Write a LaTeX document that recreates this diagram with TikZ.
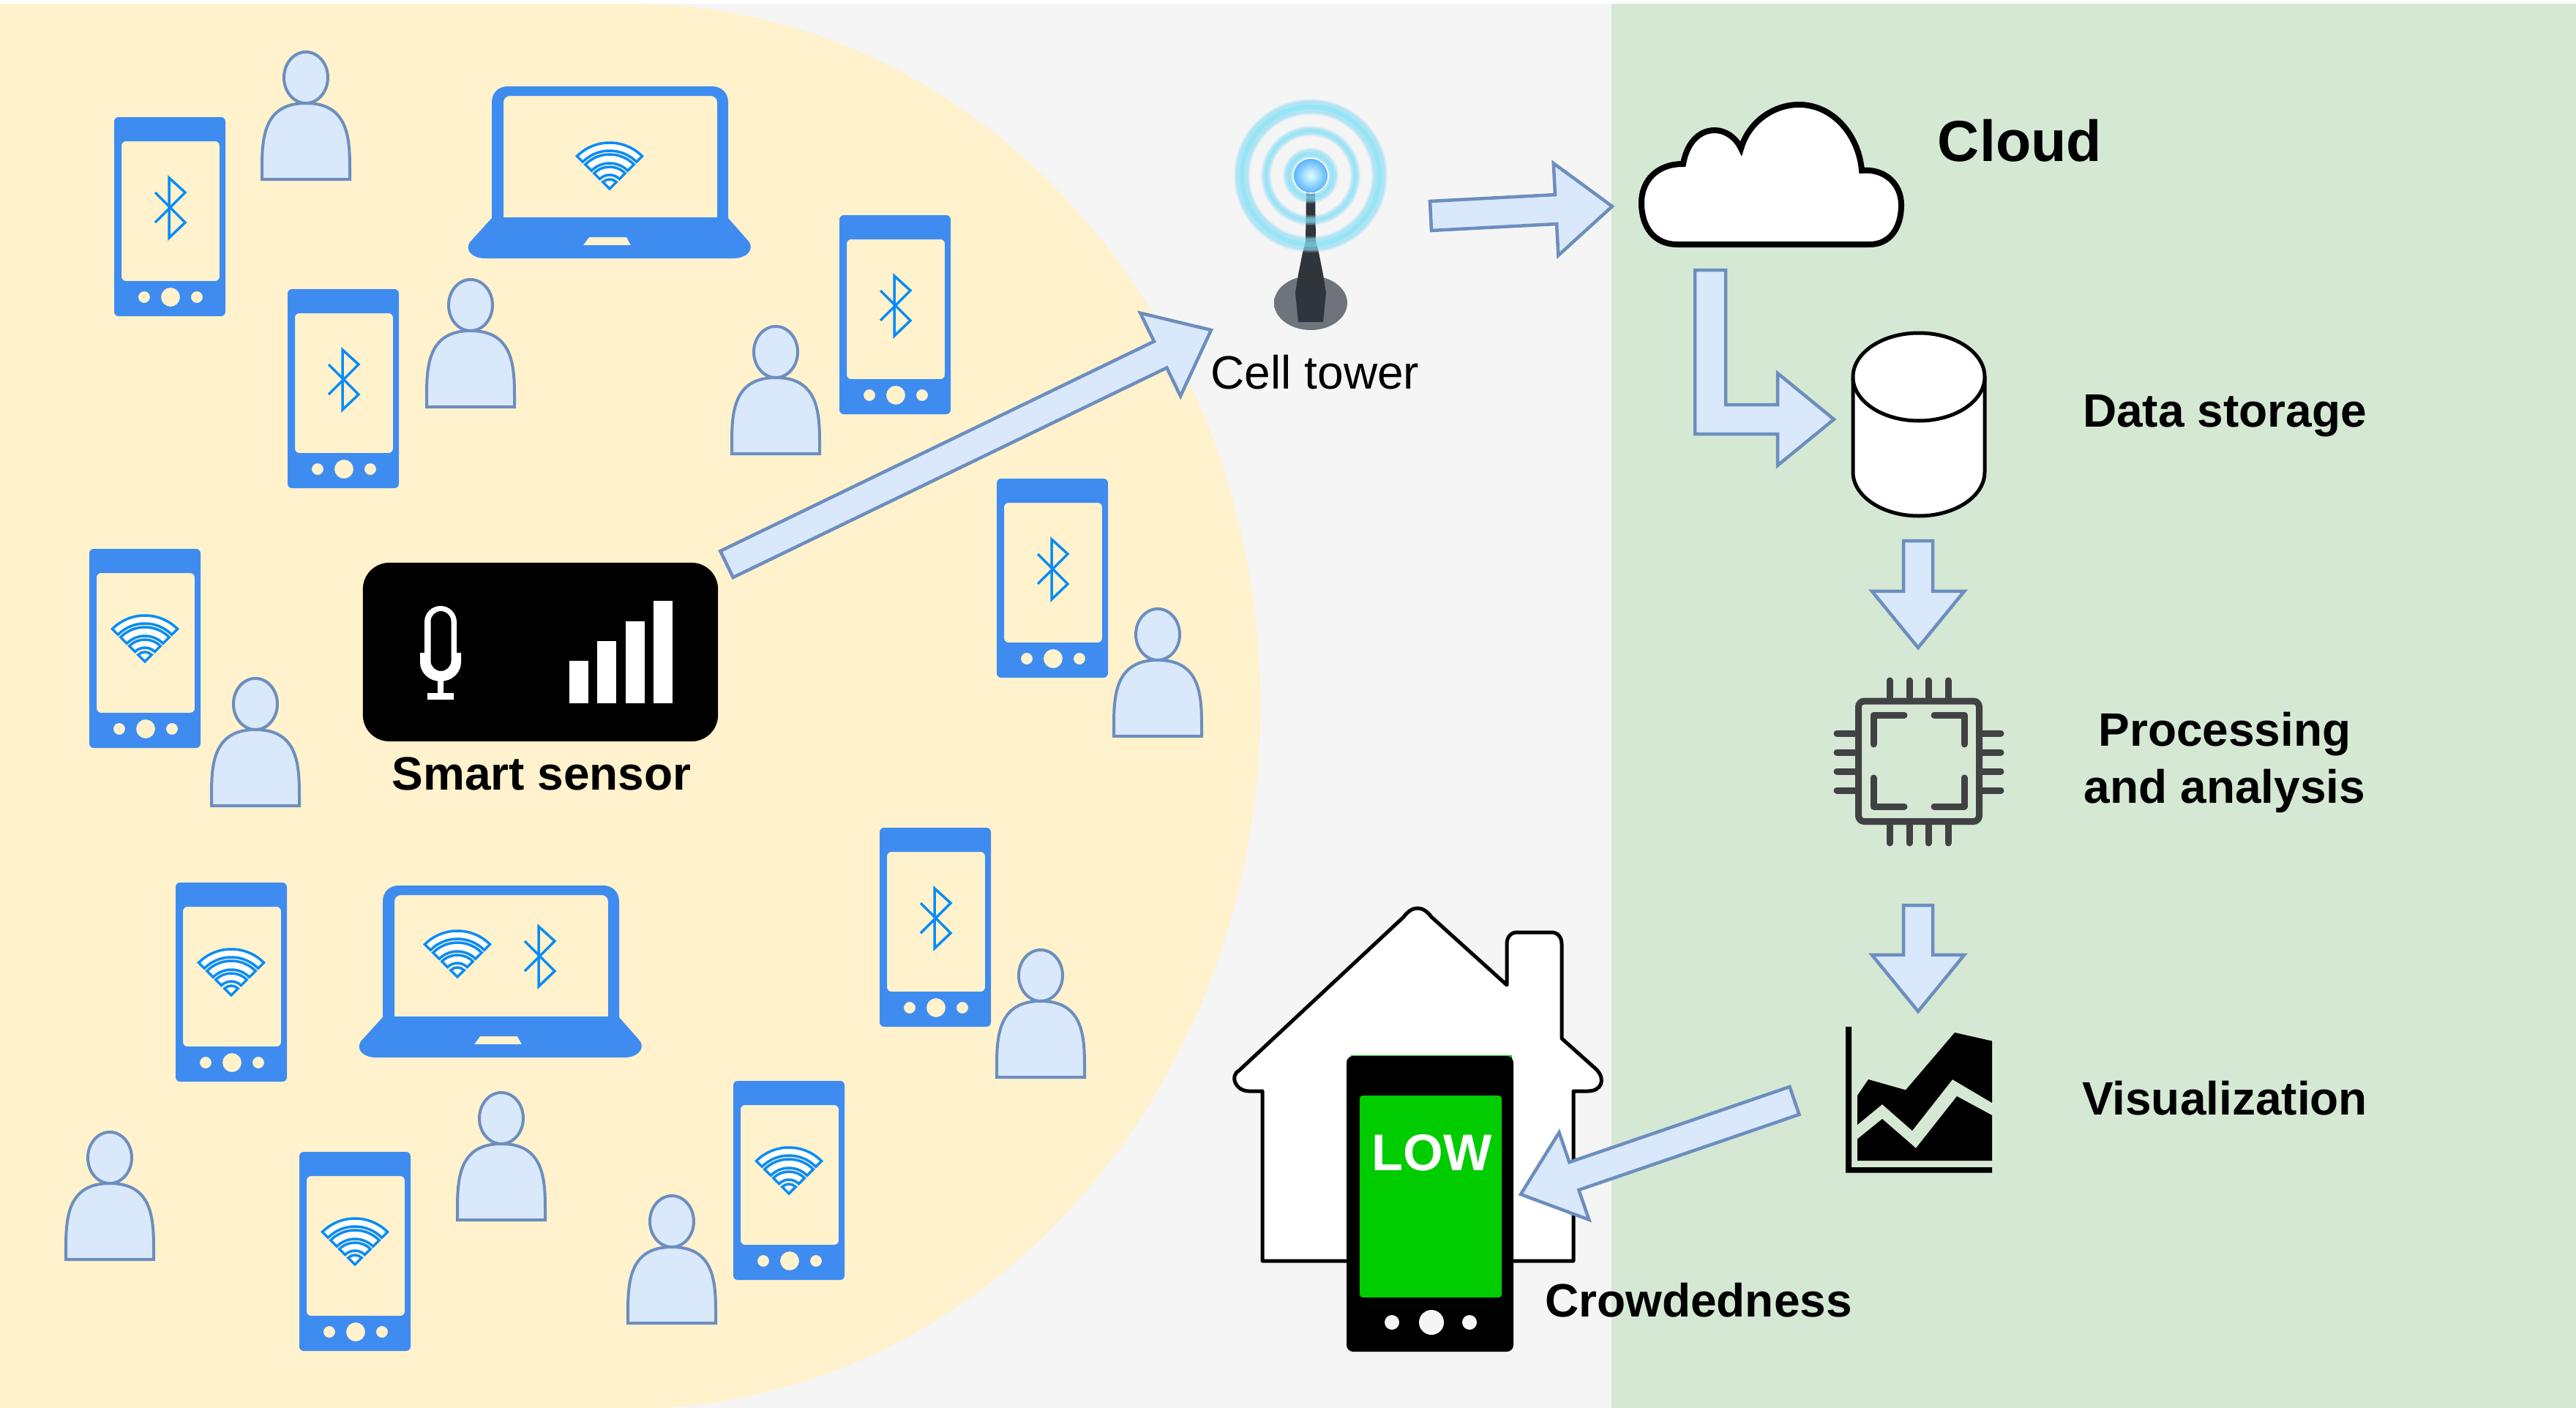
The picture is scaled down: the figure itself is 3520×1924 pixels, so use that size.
\documentclass[tikz,border=0pt]{standalone}
\usepackage{fontspec}
\setmainfont{Liberation Sans}
\usetikzlibrary{calc}
\definecolor{BackGray}{HTML}{F5F5F5}
\definecolor{RoomYellow}{HTML}{FFF2CC}
\definecolor{CloudGreen}{HTML}{D5E8D4}
\definecolor{ArrowFill}{HTML}{DAE8FC}
\definecolor{ArrowLine}{HTML}{6C8EBF}
\definecolor{DeviceBlue}{HTML}{3F8CF0}
\definecolor{SymbolBlue}{HTML}{0A8CF5}
\definecolor{ChipGray}{HTML}{414244}
\definecolor{RingCyan}{HTML}{8FDDF5}
\definecolor{LowGreen}{HTML}{00CC00}
\definecolor{TowerLight}{HTML}{6E747C}
\definecolor{TowerDark}{HTML}{30353C}
\newcommand{\fatarrow}[2]{%
  \coordinate (headbase) at ($(#2)!0.77cm!(#1)$);
  \draw[fatarr] ($(#1)!0.2cm!90:(#2)$) -- ($(headbase)!0.2cm!-90:(#1)$)
    -- ($(headbase)!0.63cm!-90:(#1)$) -- (#2) -- ($(headbase)!0.63cm!90:(#1)$)
    -- ($(headbase)!0.2cm!90:(#1)$) -- ($(#1)!0.2cm!-90:(#2)$) -- cycle;}
\begin{document}
\begin{tikzpicture}[x=0.01cm,y=0.01cm,
  lab/.style={font=\fontsize{18.2}{22.4}\selectfont\bfseries,anchor=base,align=center},
  fatarr/.style={draw=ArrowLine,fill=ArrowFill,line width=0.045cm,line join=miter},
  outline/.style={draw=black,fill=white,line width=0.05cm},
  chipline/.style={draw=ChipGray,line width=0.09cm,line cap=round},
  symline/.style={draw=SymbolBlue,line width=0.035cm},
  person/.pic={
    \draw[draw=ArrowLine,fill=ArrowFill,line width=0.04cm] (0,-37) ellipse[x radius=30,y radius=35];
    \draw[draw=ArrowLine,fill=ArrowFill,line width=0.04cm] (-60,-176) -- (-60,-168)
      .. controls (-60,-125) and (-61,-72) .. (0,-72)
      .. controls (61,-72) and (60,-125) .. (60,-168) -- (60,-176) -- cycle;},
  phone/.pic={
    \fill[DeviceBlue,even odd rule,rounded corners=0.06cm] (0,0) rectangle (152,-272)
      (10,-33) rectangle (144,-224)
      (41,-246) circle[radius=8] (77,-246) circle[radius=13] (113,-246) circle[radius=8];},
  bluetooth/.pic={
    \draw[symline] (-19,-20) -- (22,21) -- (0,41) -- (0,-41) -- (22,-20) -- (-19,21);},
  wifi/.pic={
    \foreach \ro/\ri in {63/52,47/35,30/19}
      \draw[symline,fill=white] (45:\ro) arc[start angle=45,end angle=135,radius=\ro]
        -- (135:\ri) arc[start angle=135,end angle=45,radius=\ri] -- cycle;
    \draw[symline,fill=white] (0,0) -- (45:13) arc[start angle=45,end angle=135,radius=13] -- cycle;},
  phonebt/.pic={\pic {phone}; \pic at (75,-124) {bluetooth};},
  phonewifi/.pic={\pic {phone}; \pic at (76,-154) {wifi};},
  laptop/.pic={
    \fill[DeviceBlue,even odd rule] (0,-180) -- (0,-22) .. controls (0,-8) and (10,0) .. (22,0)
      -- (301,0) .. controls (313,0) and (323,-8) .. (323,-22) -- (323,-180) -- (352,-213)
      .. controls (358,-224) and (348,-235) .. (330,-235) -- (-9,-235)
      .. controls (-27,-235) and (-37,-224) .. (-30,-213) -- cycle
      (16,-179) -- (16,-22) .. controls (16,-16) and (20,-13) .. (26,-13) -- (298,-13)
      .. controls (304,-13) and (308,-16) .. (308,-22) -- (308,-179) -- cycle
      (133,-206) -- (184,-206) -- (190,-217) -- (125,-217) -- cycle;},
]
\useasboundingbox (0,0) rectangle (3520,-1924);
% backgrounds
\fill[BackGray] (0,-5) rectangle (2202,-1924);
\fill[CloudGreen] (2202,-5) rectangle (3520,-1924);
\fill[RoomYellow] (0,-5) -- (860,-5) arc[x radius=862,y radius=960,start angle=90,end angle=-90] -- (0,-1925) -- cycle;
% people and devices
\foreach \x/\y in {418/69,643/380,1060/444,1582/830,349/925,1422/1296,918/1632,685/1491,150/1545}
  \pic at (\x,-\y) {person};
\foreach \x/\y in {156/160,393/395,1147/294,1362/654,1202/1131}
  \pic at (\x,-\y) {phonebt};
\foreach \x/\y in {122/750,1002/1477,240/1206,409/1574}
  \pic at (\x,-\y) {phonewifi};
\pic at (672,-118) {laptop};
\pic at (833,-258) {wifi};
\pic at (523,-1210) {laptop};
\pic at (625,-1335) {wifi};
\pic at (736,-1307) {bluetooth};
% smart sensor
\node[fill=black,rounded corners=0.36cm,minimum width=4.85cm,minimum height=2.44cm] (sensor) at (738.5,-891) {};
\fill[white,even odd rule] (574,-892) -- (580,-892) -- (580,-850) arc[start angle=180,end angle=0,radius=22]
  -- (624,-892) -- (630,-892) -- (630,-905) arc[start angle=0,end angle=-180,x radius=28,y radius=26] -- cycle
  (588.5,-849) arc[start angle=180,end angle=0,radius=14] -- (616.5,-903)
  arc[start angle=0,end angle=-180,radius=14] -- cycle;
\fill[white] (598,-930) rectangle (606,-950) (584,-947) rectangle (620,-956);
\foreach \x/\y in {778/903,816/876,855/849,893/821}
  \fill[white] (\x,-\y) rectangle (\x+26,-961);
\node[lab] (sensorlabel) at (740,-1079) {Smart sensor};
% cell tower
\shade[left color=TowerLight,middle color=TowerDark,right color=TowerLight] (1791,-414) ellipse[x radius=50,y radius=37];
\fill[TowerDark] (1785,-259) -- (1797,-259) -- (1798,-330) -- (1802,-345) -- (1808,-375) -- (1812,-400)
  -- (1808,-440) -- (1774,-440) -- (1770,-400) -- (1774,-375) -- (1780,-345) -- (1784,-330) -- cycle;
\foreach \r/\w in {94/16,61/8,30/10}{
  \draw[RingCyan,opacity=0.22,line width=\w*0.01cm+0.06cm] (1791,-240) circle[radius=\r];
  \draw[RingCyan,opacity=0.3,line width=\w*0.01cm+0.03cm] (1791,-240) circle[radius=\r];
  \draw[RingCyan,opacity=0.4,line width=\w*0.01cm] (1791,-240) circle[radius=\r];
  \draw[RingCyan!70!cyan,opacity=0.35,line width=\w*0.004cm] (1791,-240) circle[radius=\r];}
\draw[white,line width=0.015cm] (1791,-240) circle[radius=24];
\shade[inner color=cyan!12!white,outer color=cyan!55!blue!65] (1791,-240) circle[radius=23];
\node[lab,font=\fontsize{18.2}{22}\selectfont] (towerlabel) at (1797,-531) {Cell tower};
% cloud side
\draw[outline,line width=0.08cm] (2292,-334) .. controls (2260,-334) and (2243,-310) .. (2243,-277)
  .. controls (2243,-248) and (2263,-224) .. (2300,-224)
  .. controls (2305,-195) and (2322,-178) .. (2343,-178) .. controls (2358,-178) and (2372,-188) .. (2379,-203)
  .. controls (2390,-165) and (2425,-143) .. (2458,-143) .. controls (2505,-143) and (2540,-185) .. (2544,-233)
  .. controls (2574,-230) and (2598,-250) .. (2598,-280) .. controls (2598,-312) and (2582,-334) .. (2555,-334) -- cycle;
\node[lab,font=\fontsize{22.5}{26}\selectfont\bfseries] (cloudlabel) at (2760,-220) {Cloud};
\draw[outline] (2532,-515) -- (2532,-645) arc[start angle=180,end angle=360,x radius=90,y radius=60]
  -- (2712,-515);
\draw[outline] (2622,-515) ellipse[x radius=90,y radius=60];
\node[lab] (storagelabel) at (3040,-583) {Data storage};
% chip
\draw[chipline,rounded corners=0.08cm] (2539.5,-958) rectangle (2704.5,-1122.5);
\draw[chipline,line join=round] (2602,-977) -- (2560,-977) -- (2560,-1017) (2643,-977) -- (2684,-977) -- (2684,-1017)
  (2560,-1063) -- (2560,-1102) -- (2602,-1102) (2684,-1063) -- (2684,-1102) -- (2643,-1102);
\foreach \x in {2582,2609,2635,2662}
  \draw[chipline] (\x,-930) -- (\x,-953) (\x,-1127) -- (\x,-1152);
\foreach \y in {1002,1028,1054,1080}
  \draw[chipline] (2510,-\y) -- (2535,-\y) (2709,-\y) -- (2734,-\y);
\node[lab,anchor=center] (chiplabel) at (3040,-1042) {Processing\\and analysis};
% chart
\fill[black] (2522,-1403) -- (2530,-1403) -- (2530,-1595) -- (2722,-1595) -- (2722,-1602.5) -- (2522,-1602.5) -- cycle;
\fill[black] (2538,-1497) -- (2553,-1475) -- (2604,-1489.5) -- (2671,-1411) -- (2722,-1422.5) -- (2722,-1507)
  -- (2668,-1475) -- (2613,-1545) -- (2572,-1509) -- (2538,-1537) -- cycle;
\fill[black] (2538,-1556.5) -- (2572,-1529) -- (2618,-1569) -- (2674,-1498) -- (2722,-1524) -- (2722,-1586) -- (2538,-1586) -- cycle;
\node[lab] (chartlabel) at (3040,-1523) {Visualization};
% house and crowdedness phone
\draw[outline,line join=round] (1725,-1723) -- (1725,-1491) -- (1707,-1491) .. controls (1688,-1491) and (1680,-1470) .. (1693,-1463)
  -- (1918,-1253) .. controls (1930,-1237) and (1944,-1237) .. (1956,-1253) -- (2059,-1346) -- (2059,-1290)
  .. controls (2059,-1280) and (2065,-1274) .. (2073,-1274) -- (2120,-1274) .. controls (2128,-1274) and (2134,-1280) .. (2134,-1290)
  -- (2134,-1419) -- (2181,-1461) .. controls (2195,-1475) and (2188,-1491) .. (2170,-1491) -- (2150,-1491) -- (2150,-1723) -- cycle;
\fill[LowGreen] (1846,-1442) rectangle (2066,-1450);
\fill[black,rounded corners=0.09cm] (1840,-1443) rectangle (2068,-1847);
\node[fill=LowGreen,rounded corners=0.04cm,minimum width=1.94cm,minimum height=2.755cm] (crowdscreen) at (1955,-1635) {};
\fill[BackGray] (1902,-1807) circle[radius=10] (1956,-1807) circle[radius=17] (2008,-1807) circle[radius=10];
\node[lab,text=white,font=\fontsize{20}{22}\selectfont\bfseries] (lowlabel) at (1957,-1599) {LOW};
\node[lab] (crowdlabel) at (2321,-1799) {Crowdedness};
% connectors
\coordinate (sensorout) at (993,-771);
\coordinate (towerin) at (1655,-451);
\coordinate (towerout) at (1955,-295);
\coordinate (cloudin) at (2203,-282);
\coordinate (cloudout) at (2337,-369);
\coordinate (storagein) at (2506,-573);
\coordinate (storageout) at (2621,-739);
\coordinate (chipin) at (2621,-885);
\coordinate (chipout) at (2621,-1237);
\coordinate (chartin) at (2621,-1382);
\coordinate (chartout) at (2452,-1504);
\coordinate (crowdin) at (2078,-1632);
\fatarrow{sensorout}{towerin}
\fatarrow{towerout}{cloudin}
\draw[fatarr] ($(cloudout)+(-21,0)$) -- ($(cloudout)+(21,0)$) |- ($(storagein)+(-77,20)$)
  -- ($(storagein)+(-77,63)$) -- (storagein) -- ($(storagein)+(-77,-63)$) -- ($(storagein)+(-77,-20)$)
  -| cycle;
\fatarrow{storageout}{chipin}
\fatarrow{chipout}{chartin}
\fatarrow{chartout}{crowdin}
\end{tikzpicture}
\end{document}
